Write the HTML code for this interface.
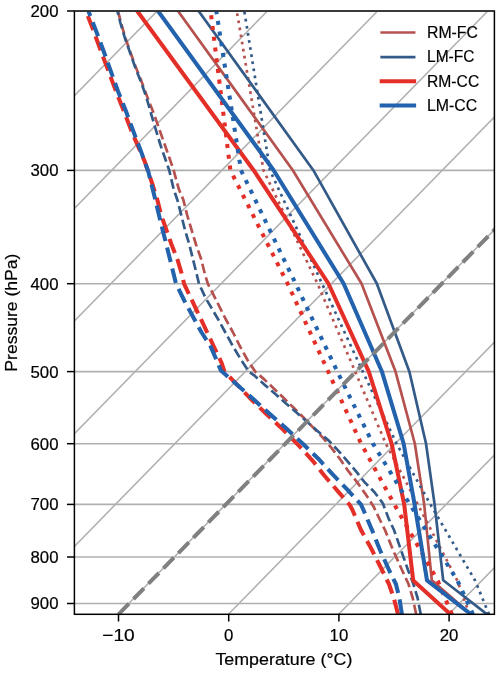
<!DOCTYPE html><html><head><meta charset="utf-8"><style>html,body{margin:0;padding:0;background:#fff;width:500px;height:674px;overflow:hidden}svg{display:block;will-change:transform}text{font-family:"Liberation Sans",sans-serif;fill:#000;stroke:#000;stroke-width:0.2px}</style></head><body>
<svg width="500" height="674" viewBox="0 0 500 674">
<defs><clipPath id="ax"><rect x="74.4" y="11.0" width="420.0" height="603.3"/></clipPath></defs>
<rect width="500" height="674" fill="#fff"/>
<g clip-path="url(#ax)">
<line x1="74.4" y1="11.0" x2="494.4" y2="11.0" stroke="#b0b0b0" stroke-width="1.6"/>
<line x1="74.4" y1="170.4" x2="494.4" y2="170.4" stroke="#b0b0b0" stroke-width="1.6"/>
<line x1="74.4" y1="283.7" x2="494.4" y2="283.7" stroke="#b0b0b0" stroke-width="1.6"/>
<line x1="74.4" y1="371.6" x2="494.4" y2="371.6" stroke="#b0b0b0" stroke-width="1.6"/>
<line x1="74.4" y1="443.7" x2="494.4" y2="443.7" stroke="#b0b0b0" stroke-width="1.6"/>
<line x1="74.4" y1="504.4" x2="494.4" y2="504.4" stroke="#b0b0b0" stroke-width="1.6"/>
<line x1="74.4" y1="557.0" x2="494.4" y2="557.0" stroke="#b0b0b0" stroke-width="1.6"/>
<line x1="74.4" y1="603.5" x2="494.4" y2="603.5" stroke="#b0b0b0" stroke-width="1.6"/>
<line x1="-543.00" y1="614.3" x2="47.03" y2="11.0" stroke="#b0b0b0" stroke-width="1.55"/>
<line x1="-432.80" y1="614.3" x2="157.23" y2="11.0" stroke="#b0b0b0" stroke-width="1.55"/>
<line x1="-322.60" y1="614.3" x2="267.43" y2="11.0" stroke="#b0b0b0" stroke-width="1.55"/>
<line x1="-212.40" y1="614.3" x2="377.63" y2="11.0" stroke="#b0b0b0" stroke-width="1.55"/>
<line x1="-102.20" y1="614.3" x2="487.83" y2="11.0" stroke="#b0b0b0" stroke-width="1.55"/>
<line x1="8.00" y1="614.3" x2="598.03" y2="11.0" stroke="#b0b0b0" stroke-width="1.55"/>
<line x1="118.20" y1="614.3" x2="708.23" y2="11.0" stroke="#b0b0b0" stroke-width="1.55"/>
<line x1="228.40" y1="614.3" x2="818.43" y2="11.0" stroke="#b0b0b0" stroke-width="1.55"/>
<line x1="338.60" y1="614.3" x2="928.63" y2="11.0" stroke="#b0b0b0" stroke-width="1.55"/>
<line x1="448.80" y1="614.3" x2="1038.83" y2="11.0" stroke="#b0b0b0" stroke-width="1.55"/>
<line x1="559.00" y1="614.3" x2="1149.03" y2="11.0" stroke="#b0b0b0" stroke-width="1.55"/>
<path d="M471.0,614.3 L431.8,580.3 L424.2,504.4 L414.8,443.5 L395.6,371.8 L361.5,283.5 L292.8,170.2 L178.0,11.0" stroke="#b5524f" stroke-width="2.7" fill="none" stroke-linejoin="round" stroke-linecap="square"/>
<path d="M416.2,614.3 L412.7,598.0 L408.5,584.0 L402.0,570.0 L393.0,550.0 L385.0,530.0 L380.0,520.0 L373.5,506.4 L365.2,493.6 L357.2,482.4 L348.4,471.2 L340.7,460.0 L332.4,449.1 L322.8,437.6 L313.0,427.4 L303.2,417.3 L293.7,407.8 L284.0,398.3 L273.8,388.5 L264.0,379.1 L255.2,371.6 L247.5,360.0 L239.8,346.0 L232.8,332.0 L225.1,318.0 L218.1,304.0 L211.1,290.0 L207.9,283.8 L204.9,274.2 L201.2,259.3 L196.0,244.5 L191.5,229.7 L187.1,214.8 L183.4,200.0 L178.8,189.0 L173.6,170.2 L169.9,159.3 L164.7,144.5 L159.5,129.7 L154.3,114.8 L148.4,100.0 L141.8,82.2 L135.8,67.3 L130.5,52.5 L125.3,37.7 L121.0,22.8 L118.0,11.0" stroke="#b5524f" stroke-width="2.7" fill="none" stroke-linejoin="round" stroke-dasharray="9.805 4.240" stroke-linecap="butt"/>
<path d="M469.5,614.3 L457.5,580.9 L417.8,504.4 L385.7,443.4 L355.2,371.6 L317.5,283.6 L263.5,170.3 L236.8,11.0" stroke="#b5524f" stroke-width="2.7" fill="none" stroke-linejoin="round" stroke-dasharray="2.710 4.471" stroke-linecap="butt"/>
<path d="M487.0,614.3 L443.2,580.3 L434.6,504.4 L426.0,443.5 L409.4,371.8 L376.8,283.5 L313.3,170.2 L198.6,11.0" stroke="#345b88" stroke-width="2.7" fill="none" stroke-linejoin="round" stroke-linecap="square"/>
<path d="M420.7,614.3 L417.6,598.0 L413.4,584.0 L408.0,570.0 L401.0,550.0 L394.0,530.0 L388.8,519.0 L382.8,503.2 L374.3,492.0 L364.7,482.4 L355.9,471.2 L347.1,460.8 L338.0,450.4 L328.4,440.3 L317.2,430.7 L306.7,421.5 L296.2,412.3 L285.7,403.3 L275.9,394.5 L265.4,385.4 L254.9,375.9 L248.9,371.6 L241.2,360.0 L232.8,346.0 L225.1,332.0 L217.4,318.0 L205.6,298.0 L199.0,283.8 L196.7,274.2 L193.0,259.3 L189.3,244.5 L184.9,229.7 L181.2,214.8 L177.4,200.0 L173.6,189.0 L169.2,170.2 L165.4,159.3 L160.3,144.5 L155.8,129.7 L151.4,114.8 L146.3,97.0 L141.1,82.2 L135.2,67.3 L130.0,52.5 L124.8,37.7 L120.4,22.8 L117.4,11.0" stroke="#345b88" stroke-width="2.7" fill="none" stroke-linejoin="round" stroke-dasharray="9.805 4.240" stroke-linecap="butt"/>
<path d="M489.0,614.3 L475.3,580.9 L430.4,504.4 L396.4,443.4 L362.8,371.6 L322.0,283.6 L270.0,170.3 L244.3,11.0" stroke="#345b88" stroke-width="2.7" fill="none" stroke-linejoin="round" stroke-dasharray="2.710 4.471" stroke-linecap="butt"/>
<path d="M450.5,614.3 L413.2,580.6 L404.2,504.4 L391.6,443.5 L368.9,371.8 L328.4,283.5 L253.6,170.2 L137.2,11.0" stroke="#e32f27" stroke-width="4.05" fill="none" stroke-linejoin="round" stroke-linecap="square"/>
<path d="M398.0,614.3 L393.8,598.0 L388.9,584.0 L382.0,570.0 L372.0,550.0 L361.0,530.0 L352.5,510.0 L349.8,505.0 L338.8,492.3 L324.7,476.0 L312.7,460.8 L296.8,443.5 L280.8,427.4 L265.0,412.7 L252.6,400.8 L224.5,371.6 L221.6,362.8 L213.6,346.0 L203.7,325.0 L184.1,283.8 L181.9,274.2 L177.4,259.3 L171.5,244.5 L166.3,229.7 L161.1,214.8 L157.4,200.0 L152.7,185.0 L144.7,161.4 L131.4,130.9 L123.7,110.8 L116.0,91.2 L100.5,50.0 L93.1,29.6 L85.9,11.0" stroke="#e32f27" stroke-width="4.05" fill="none" stroke-linejoin="round" stroke-dasharray="15.078 6.520" stroke-linecap="butt"/>
<path d="M451.9,614.3 L437.8,580.9 L394.3,504.4 L361.0,443.4 L328.2,371.6 L287.6,283.6 L230.4,170.3 L210.6,11.0" stroke="#e32f27" stroke-width="4.05" fill="none" stroke-linejoin="round" stroke-dasharray="4.080 6.732" stroke-linecap="butt"/>
<path d="M471.0,614.3 L427.0,580.3 L414.6,504.4 L403.6,443.5 L382.0,371.8 L343.6,283.5 L273.6,170.2 L158.0,11.0" stroke="#2362ac" stroke-width="4.05" fill="none" stroke-linejoin="round" stroke-linecap="square"/>
<path d="M401.9,614.3 L399.4,598.0 L395.9,584.0 L389.0,570.0 L380.0,550.0 L372.0,530.0 L363.5,510.0 L360.9,504.4 L347.6,489.9 L332.7,474.4 L318.3,458.7 L302.8,443.8 L286.7,428.8 L271.0,415.1 L255.2,400.8 L220.9,370.5 L216.5,360.0 L210.4,346.0 L201.3,332.0 L184.0,300.0 L176.0,283.8 L173.7,274.2 L170.0,259.3 L166.3,244.5 L162.6,229.7 L158.9,214.8 L155.4,200.0 L153.6,192.7 L148.3,171.6 L140.9,151.1 L133.2,130.9 L125.8,110.8 L118.0,91.2 L110.6,70.6 L103.2,50.0 L95.6,29.6 L88.4,11.0" stroke="#2362ac" stroke-width="4.05" fill="none" stroke-linejoin="round" stroke-dasharray="15.078 6.520" stroke-linecap="butt"/>
<path d="M473.0,614.3 L457.6,580.9 L409.9,504.4 L372.8,443.4 L337.3,371.6 L295.6,283.6 L241.0,170.3 L216.3,11.0" stroke="#2362ac" stroke-width="4.05" fill="none" stroke-linejoin="round" stroke-dasharray="4.080 6.732" stroke-linecap="butt"/>
<line x1="118.50" y1="614.3" x2="708.53" y2="11.0" stroke="#808080" stroke-width="4.0" stroke-dasharray="14.95 6.46"/>
</g>
<rect x="74.4" y="11.0" width="420.0" height="603.3" fill="none" stroke="#000" stroke-width="1.5"/>
<line x1="74.4" y1="11.0" x2="494.4" y2="11.0" stroke="#3c3c3c" stroke-width="1.5"/>
<line x1="67" y1="11.0" x2="74.4" y2="11.0" stroke="#000" stroke-width="1.5"/>
<line x1="67" y1="170.4" x2="74.4" y2="170.4" stroke="#000" stroke-width="1.5"/>
<line x1="67" y1="283.7" x2="74.4" y2="283.7" stroke="#000" stroke-width="1.5"/>
<line x1="67" y1="371.6" x2="74.4" y2="371.6" stroke="#000" stroke-width="1.5"/>
<line x1="67" y1="443.7" x2="74.4" y2="443.7" stroke="#000" stroke-width="1.5"/>
<line x1="67" y1="504.4" x2="74.4" y2="504.4" stroke="#000" stroke-width="1.5"/>
<line x1="67" y1="557.0" x2="74.4" y2="557.0" stroke="#000" stroke-width="1.5"/>
<line x1="67" y1="603.5" x2="74.4" y2="603.5" stroke="#000" stroke-width="1.5"/>
<line x1="118.5" y1="614.3" x2="118.5" y2="621.5" stroke="#000" stroke-width="1.5"/>
<line x1="228.7" y1="614.3" x2="228.7" y2="621.5" stroke="#000" stroke-width="1.5"/>
<line x1="338.9" y1="614.3" x2="338.9" y2="621.5" stroke="#000" stroke-width="1.5"/>
<line x1="449.1" y1="614.3" x2="449.1" y2="621.5" stroke="#000" stroke-width="1.5"/>
<text x="58.5" y="16.9" font-size="16.8" text-anchor="end">200</text>
<text x="58.5" y="176.3" font-size="16.8" text-anchor="end">300</text>
<text x="58.5" y="289.6" font-size="16.8" text-anchor="end">400</text>
<text x="58.5" y="377.5" font-size="16.8" text-anchor="end">500</text>
<text x="58.5" y="449.6" font-size="16.8" text-anchor="end">600</text>
<text x="58.5" y="510.3" font-size="16.8" text-anchor="end">700</text>
<text x="58.5" y="562.9" font-size="16.8" text-anchor="end">800</text>
<text x="58.5" y="609.4" font-size="16.8" text-anchor="end">900</text>
<text x="118.5" y="640.9" font-size="16.8" text-anchor="middle" textLength="32.5" lengthAdjust="spacingAndGlyphs">−10</text>
<text x="228.7" y="640.9" font-size="16.8" text-anchor="middle">0</text>
<text x="338.9" y="640.9" font-size="16.8" text-anchor="middle">10</text>
<text x="449.1" y="640.9" font-size="16.8" text-anchor="middle">20</text>
<text x="283.9" y="665.0" font-size="16.8" text-anchor="middle" textLength="136.9" lengthAdjust="spacingAndGlyphs">Temperature (°C)</text>
<text transform="translate(17.0,312.6) rotate(-90)" x="0" y="0" font-size="16.8" text-anchor="middle" textLength="118.1" lengthAdjust="spacingAndGlyphs">Pressure (hPa)</text>
<line x1="381.7" y1="32.5" x2="414.1" y2="32.5" stroke="#b5524f" stroke-width="2.7" stroke-linecap="square"/>
<text x="427" y="38.3" font-size="16.8" textLength="50.9" lengthAdjust="spacingAndGlyphs">RM-FC</text>
<line x1="381.7" y1="57.2" x2="414.1" y2="57.2" stroke="#345b88" stroke-width="2.7" stroke-linecap="square"/>
<text x="427" y="62.3" font-size="16.8" textLength="47.4" lengthAdjust="spacingAndGlyphs">LM-FC</text>
<line x1="381.7" y1="81.2" x2="414.1" y2="81.2" stroke="#e32f27" stroke-width="4.05" stroke-linecap="square"/>
<text x="427" y="86.7" font-size="16.8" textLength="52.2" lengthAdjust="spacingAndGlyphs">RM-CC</text>
<line x1="381.7" y1="105.5" x2="414.1" y2="105.5" stroke="#2362ac" stroke-width="4.05" stroke-linecap="square"/>
<text x="427" y="110.9" font-size="16.8" textLength="50.3" lengthAdjust="spacingAndGlyphs">LM-CC</text>
</svg></body></html>
